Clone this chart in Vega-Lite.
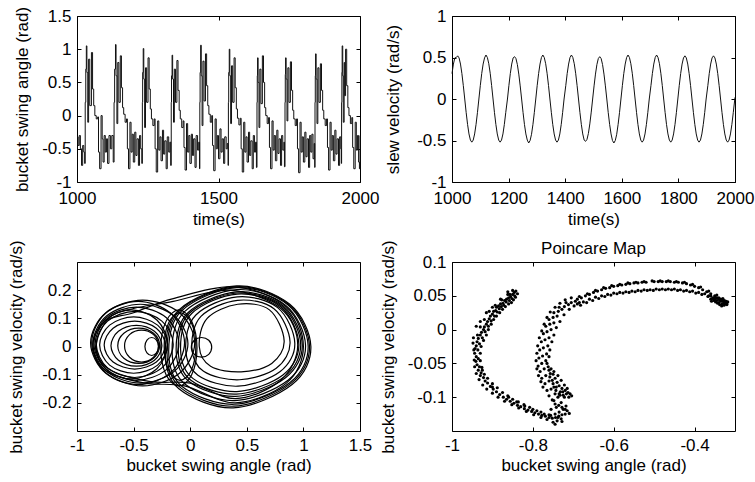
{
"$schema": "https://vega.github.io/schema/vega-lite/v6.json",
"autosize": {"type": "none"},
"padding": {"left": 77, "top": 16, "right": 678, "bottom": 466},
"background": "white",
"config": {
 "font": "Liberation Sans",
 "view": {"stroke": "black", "strokeWidth": 1},
 "axis": {"domain": false, "grid": false, "labelFont": "Liberation Sans", "labelFontSize": 17, "labelColor": "black", "titleFont": "Liberation Sans", "titleFontSize": 17, "titleFontWeight": "normal", "titleColor": "black", "tickColor": "black", "tickSize": -4, "tickWidth": 1, "labelPadding": 10, "labelFlush": false, "labelOverlap": false, "labelBound": false, "labelExpr": "'' + datum.value"},
 "title": {"font": "Liberation Sans", "fontSize": 17, "fontWeight": "normal", "color": "black"}
},
"datasets": {
"p1": [
{"t":1000,"a":-0.32},{"t":1004,"a":-0.45},{"t":1008,"a":-0.3},{"t":1012,"a":-0.5},{"t":1016,"a":-0.75},{"t":1020,"a":-0.45},{"t":1024,"a":-0.55},{"t":1027,"a":-0.72},{"t":1029,"a":0.2},{"t":1031,"a":0.7},
{"t":1033,"a":1.05},{"t":1035,"a":0.65},{"t":1038,"a":-0.1},{"t":1041,"a":0.85},{"t":1045,"a":0.15},{"t":1051,"a":0.95},{"t":1055,"a":0.4},{"t":1059,"a":0.15},{"t":1063,"a":0.0},{"t":1068,"a":-0.05},{"t":1073,"a":-0.02},{"t":1076,"a":-0.55},{"t":1080,"a":-0.8},{"t":1085,"a":0.0},{"t":1089,"a":-0.35},{"t":1092,"a":-0.7},{"t":1096,"a":-0.3},{"t":1100,"a":-0.55},{"t":1104,"a":-0.35},{"t":1108,"a":-0.72},{"t":1113,"a":-0.3},{"t":1118,"a":-0.5},{"t":1123,"a":-0.3},{"t":1128,"a":-0.7},{"t":1131,"a":0.2},{"t":1133,"a":0.7},
{"t":1136,"a":1.07},{"t":1138,"a":0.6},{"t":1141,"a":-0.12},{"t":1144,"a":0.8},{"t":1148,"a":0.2},{"t":1153,"a":0.9},{"t":1157,"a":0.42},{"t":1161,"a":0.12},{"t":1165,"a":0.02},{"t":1170,"a":-0.1},{"t":1175,"a":-0.05},{"t":1178,"a":-0.5},{"t":1182,"a":-0.8},{"t":1187,"a":-0.1},{"t":1191,"a":-0.55},{"t":1195,"a":-0.28},{"t":1199,"a":-0.7},{"t":1204,"a":-0.25},{"t":1208,"a":-0.6},{"t":1212,"a":-0.35},{"t":1217,"a":-0.75},{"t":1221,"a":-0.3},{"t":1225,"a":-0.5},{"t":1229,"a":-0.72},{"t":1231,"a":0.2},{"t":1232,"a":0.65},
{"t":1234,"a":1.01},{"t":1236,"a":0.55},{"t":1239,"a":-0.18},{"t":1242,"a":0.72},{"t":1246,"a":0.2},{"t":1251,"a":0.87},{"t":1255,"a":0.4},{"t":1259,"a":0.1},{"t":1263,"a":-0.05},{"t":1268,"a":-0.15},{"t":1273,"a":-0.05},{"t":1276,"a":-0.5},{"t":1280,"a":-0.85},{"t":1285,"a":-0.08},{"t":1289,"a":-0.52},{"t":1293,"a":-0.32},{"t":1297,"a":-0.68},{"t":1302,"a":-0.22},{"t":1306,"a":-0.58},{"t":1310,"a":-0.38},{"t":1315,"a":-0.8},{"t":1319,"a":-0.32},{"t":1324,"a":-0.55},{"t":1328,"a":-0.4},{"t":1331,"a":-0.75},{"t":1333,"a":0.2},{"t":1334,"a":0.6},
{"t":1336,"a":0.91},{"t":1338,"a":0.55},{"t":1341,"a":-0.1},{"t":1344,"a":0.7},{"t":1348,"a":0.2},{"t":1353,"a":0.83},{"t":1357,"a":0.38},{"t":1361,"a":0.08},{"t":1365,"a":-0.05},{"t":1370,"a":-0.18},{"t":1375,"a":-0.08},{"t":1378,"a":-0.48},{"t":1382,"a":-0.82},{"t":1387,"a":-0.12},{"t":1391,"a":-0.55},{"t":1395,"a":-0.3},{"t":1399,"a":-0.72},{"t":1404,"a":-0.28},{"t":1408,"a":-0.6},{"t":1412,"a":-0.35},{"t":1417,"a":-0.78},{"t":1421,"a":-0.3},{"t":1426,"a":-0.52},{"t":1430,"a":-0.4},{"t":1433,"a":-0.8},{"t":1434,"a":0.2},{"t":1435,"a":0.65},
{"t":1437,"a":1.06},{"t":1439,"a":0.6},{"t":1442,"a":-0.15},{"t":1445,"a":0.82},{"t":1449,"a":0.22},{"t":1454,"a":0.93},{"t":1458,"a":0.45},{"t":1462,"a":0.15},{"t":1466,"a":0.02},{"t":1471,"a":-0.1},{"t":1476,"a":0.0},{"t":1479,"a":-0.45},{"t":1483,"a":-0.83},{"t":1488,"a":-0.05},{"t":1492,"a":-0.5},{"t":1496,"a":-0.3},{"t":1500,"a":-0.65},{"t":1505,"a":-0.2},{"t":1509,"a":-0.55},{"t":1513,"a":-0.35},{"t":1518,"a":-0.72},{"t":1522,"a":-0.32},{"t":1527,"a":-0.5},{"t":1531,"a":-0.42},{"t":1534,"a":-0.75},{"t":1535,"a":0.2},{"t":1536,"a":0.65},
{"t":1538,"a":1.0},{"t":1540,"a":0.6},{"t":1543,"a":-0.12},{"t":1546,"a":0.75},{"t":1550,"a":0.2},{"t":1555,"a":0.87},{"t":1559,"a":0.42},{"t":1563,"a":0.1},{"t":1567,"a":-0.04},{"t":1572,"a":-0.14},{"t":1577,"a":-0.04},{"t":1580,"a":-0.5},{"t":1584,"a":-0.85},{"t":1589,"a":-0.1},{"t":1593,"a":-0.55},{"t":1597,"a":-0.32},{"t":1601,"a":-0.7},{"t":1606,"a":-0.25},{"t":1610,"a":-0.6},{"t":1614,"a":-0.38},{"t":1619,"a":-0.8},{"t":1623,"a":-0.3},{"t":1627,"a":-0.55},{"t":1631,"a":-0.4},{"t":1634,"a":-0.78},{"t":1636,"a":0.2},{"t":1637,"a":0.6},
{"t":1638,"a":0.87},{"t":1640,"a":0.5},{"t":1643,"a":-0.18},{"t":1646,"a":0.7},{"t":1650,"a":0.18},{"t":1655,"a":0.9},{"t":1659,"a":0.5},{"t":1663,"a":0.12},{"t":1667,"a":0.0},{"t":1672,"a":-0.12},{"t":1677,"a":-0.03},{"t":1680,"a":-0.48},{"t":1684,"a":-0.8},{"t":1689,"a":-0.08},{"t":1693,"a":-0.52},{"t":1697,"a":-0.3},{"t":1701,"a":-0.68},{"t":1706,"a":-0.22},{"t":1710,"a":-0.57},{"t":1714,"a":-0.35},{"t":1719,"a":-0.75},{"t":1723,"a":-0.3},{"t":1727,"a":-0.52},{"t":1731,"a":-0.4},{"t":1733,"a":-0.77},{"t":1735,"a":0.2},{"t":1736,"a":0.62},
{"t":1737,"a":0.87},{"t":1739,"a":0.55},{"t":1742,"a":-0.08},{"t":1745,"a":0.72},{"t":1749,"a":0.2},{"t":1754,"a":0.81},{"t":1758,"a":0.38},{"t":1762,"a":0.08},{"t":1766,"a":-0.05},{"t":1771,"a":-0.15},{"t":1776,"a":-0.05},{"t":1779,"a":-0.5},{"t":1783,"a":-0.86},{"t":1788,"a":-0.1},{"t":1792,"a":-0.55},{"t":1796,"a":-0.32},{"t":1800,"a":-0.7},{"t":1805,"a":-0.25},{"t":1809,"a":-0.62},{"t":1813,"a":-0.35},{"t":1818,"a":-0.78},{"t":1822,"a":-0.3},{"t":1826,"a":-0.55},{"t":1830,"a":-0.28},{"t":1834,"a":-0.65},{"t":1838,"a":-0.42},{"t":1840,"a":-0.78},{"t":1841,"a":0.2},{"t":1842,"a":0.6},
{"t":1843,"a":0.93},{"t":1845,"a":0.55},{"t":1848,"a":-0.12},{"t":1851,"a":0.72},{"t":1855,"a":0.2},{"t":1860,"a":0.78},{"t":1864,"a":0.38},{"t":1868,"a":0.08},{"t":1872,"a":-0.05},{"t":1877,"a":-0.15},{"t":1882,"a":-0.05},{"t":1885,"a":-0.48},{"t":1889,"a":-0.82},{"t":1894,"a":-0.1},{"t":1898,"a":-0.52},{"t":1902,"a":-0.3},{"t":1906,"a":-0.68},{"t":1911,"a":-0.22},{"t":1915,"a":-0.58},{"t":1919,"a":-0.35},{"t":1924,"a":-0.75},{"t":1928,"a":-0.32},{"t":1932,"a":-0.5},{"t":1934,"a":-0.72},{"t":1935,"a":0.2},{"t":1936,"a":0.65},
{"t":1937,"a":1.05},{"t":1939,"a":0.6},{"t":1941,"a":-0.1},{"t":1944,"a":0.8},{"t":1946,"a":0.3},{"t":1949,"a":1.0},{"t":1953,"a":0.45},{"t":1957,"a":0.12},{"t":1961,"a":0.0},{"t":1966,"a":-0.12},{"t":1971,"a":-0.03},{"t":1974,"a":-0.48},{"t":1978,"a":-0.8},{"t":1983,"a":-0.1},{"t":1987,"a":-0.52},{"t":1991,"a":-0.3},{"t":1995,"a":-0.7},{"t":1998,"a":-0.8},{"t":2000,"a":-0.3}
],
"p2": [
{"t":1000,"w":0.306},{"t":1005,"w":0.421},{"t":1010,"w":0.495},{"t":1015,"w":0.5},
{"t":1020,"w":0.52},{"t":1025,"w":0.495},{"t":1030,"w":0.421},{"t":1035,"w":0.306},{"t":1040,"w":0.161},{"t":1045,"w":0},{"t":1050,"w":-0.161},{"t":1055,"w":-0.306},{"t":1060,"w":-0.421},{"t":1065,"w":-0.495},{"t":1070,"w":-0.52},{"t":1075,"w":-0.495},{"t":1080,"w":-0.421},{"t":1085,"w":-0.306},{"t":1090,"w":-0.161},{"t":1095,"w":0},{"t":1100,"w":0.161},{"t":1105,"w":0.306},{"t":1110,"w":0.421},{"t":1115,"w":0.495},
{"t":1120,"w":0.53},{"t":1125,"w":0.5},{"t":1130,"w":0.425},{"t":1135,"w":0.31},{"t":1140,"w":0.163},{"t":1145,"w":0},{"t":1150,"w":-0.161},{"t":1155,"w":-0.306},{"t":1160,"w":-0.421},{"t":1165,"w":-0.495},{"t":1170,"w":-0.52},{"t":1175,"w":-0.495},{"t":1180,"w":-0.421},{"t":1185,"w":-0.306},{"t":1190,"w":-0.161},{"t":1196,"w":0},{"t":1201,"w":0.161},{"t":1206,"w":0.306},{"t":1211,"w":0.421},{"t":1216,"w":0.495},
{"t":1221,"w":0.51},{"t":1226,"w":0.487},{"t":1231,"w":0.415},{"t":1236,"w":0.3},{"t":1241,"w":0.158},{"t":1246,"w":0},{"t":1251,"w":-0.161},{"t":1256,"w":-0.306},{"t":1261,"w":-0.421},{"t":1266,"w":-0.495},{"t":1271,"w":-0.53},{"t":1276,"w":-0.5},{"t":1281,"w":-0.425},{"t":1286,"w":-0.306},{"t":1291,"w":-0.161},{"t":1296,"w":0},{"t":1301,"w":0.161},{"t":1306,"w":0.306},{"t":1311,"w":0.421},{"t":1316,"w":0.5},
{"t":1321,"w":0.53},{"t":1326,"w":0.5},{"t":1331,"w":0.425},{"t":1336,"w":0.31},{"t":1341,"w":0.163},{"t":1346,"w":0},{"t":1351,"w":-0.161},{"t":1356,"w":-0.306},{"t":1361,"w":-0.421},{"t":1366,"w":-0.495},{"t":1371,"w":-0.52},{"t":1376,"w":-0.495},{"t":1381,"w":-0.421},{"t":1386,"w":-0.306},{"t":1391,"w":-0.161},{"t":1396,"w":0},{"t":1402,"w":0.161},{"t":1407,"w":0.306},{"t":1412,"w":0.421},{"t":1417,"w":0.5},
{"t":1422,"w":0.53},{"t":1427,"w":0.5},{"t":1432,"w":0.425},{"t":1437,"w":0.31},{"t":1442,"w":0.163},{"t":1447,"w":0},{"t":1452,"w":-0.161},{"t":1457,"w":-0.306},{"t":1462,"w":-0.421},{"t":1467,"w":-0.495},{"t":1472,"w":-0.51},{"t":1477,"w":-0.487},{"t":1482,"w":-0.415},{"t":1487,"w":-0.3},{"t":1492,"w":-0.158},{"t":1497,"w":0},{"t":1502,"w":0.158},{"t":1507,"w":0.3},{"t":1512,"w":0.415},{"t":1517,"w":0.487},
{"t":1522,"w":0.51},{"t":1527,"w":0.487},{"t":1532,"w":0.415},{"t":1537,"w":0.3},{"t":1542,"w":0.158},{"t":1547,"w":0},{"t":1552,"w":-0.161},{"t":1557,"w":-0.306},{"t":1562,"w":-0.421},{"t":1567,"w":-0.5},{"t":1572,"w":-0.53},{"t":1577,"w":-0.5},{"t":1582,"w":-0.425},{"t":1587,"w":-0.306},{"t":1592,"w":-0.161},{"t":1597,"w":0},{"t":1602,"w":0.161},{"t":1607,"w":0.306},{"t":1612,"w":0.421},{"t":1617,"w":0.5},
{"t":1622,"w":0.53},{"t":1627,"w":0.5},{"t":1632,"w":0.425},{"t":1637,"w":0.31},{"t":1642,"w":0.163},{"t":1647,"w":0},{"t":1652,"w":-0.161},{"t":1657,"w":-0.306},{"t":1662,"w":-0.421},{"t":1667,"w":-0.495},{"t":1672,"w":-0.52},{"t":1677,"w":-0.495},{"t":1682,"w":-0.421},{"t":1687,"w":-0.306},{"t":1692,"w":-0.161},{"t":1697,"w":0},{"t":1703,"w":0.161},{"t":1708,"w":0.306},{"t":1713,"w":0.421},{"t":1718,"w":0.5},
{"t":1723,"w":0.53},{"t":1728,"w":0.5},{"t":1733,"w":0.425},{"t":1738,"w":0.31},{"t":1743,"w":0.163},{"t":1748,"w":0},{"t":1753,"w":-0.161},{"t":1758,"w":-0.306},{"t":1763,"w":-0.421},{"t":1768,"w":-0.495},{"t":1773,"w":-0.52},{"t":1778,"w":-0.495},{"t":1783,"w":-0.421},{"t":1788,"w":-0.306},{"t":1793,"w":-0.161},{"t":1798,"w":0},{"t":1803,"w":0.161},{"t":1808,"w":0.306},{"t":1813,"w":0.421},{"t":1818,"w":0.495},
{"t":1823,"w":0.52},{"t":1828,"w":0.495},{"t":1833,"w":0.421},{"t":1838,"w":0.306},{"t":1843,"w":0.161},{"t":1848,"w":0},{"t":1853,"w":-0.161},{"t":1858,"w":-0.306},{"t":1863,"w":-0.421},{"t":1868,"w":-0.495},{"t":1873,"w":-0.52},{"t":1878,"w":-0.495},{"t":1883,"w":-0.421},{"t":1888,"w":-0.306},{"t":1893,"w":-0.161},{"t":1898,"w":0},{"t":1904,"w":0.161},{"t":1909,"w":0.306},{"t":1914,"w":0.421},{"t":1919,"w":0.495},
{"t":1924,"w":0.52},{"t":1929,"w":0.495},{"t":1934,"w":0.421},{"t":1939,"w":0.306},{"t":1944,"w":0.161},{"t":1949,"w":0},{"t":1954,"w":-0.161},{"t":1959,"w":-0.306},{"t":1964,"w":-0.421},{"t":1969,"w":-0.495},{"t":1974,"w":-0.52},{"t":1979,"w":-0.495},{"t":1984,"w":-0.421},{"t":1989,"w":-0.306},{"t":1994,"w":-0.161},{"t":2000,"w":0.02}
],
"p3": [
{"l":"L1","i":0,"x":0.04,"v":0.013},{"l":"L1","i":1,"x":-0.095,"v":0.12},{"l":"L1","i":2,"x":-0.42,"v":0.165},{"l":"L1","i":3,"x":-0.745,"v":0.12},{"l":"L1","i":4,"x":-0.88,"v":0.013},{"l":"L1","i":5,"x":-0.745,"v":-0.095},{"l":"L1","i":6,"x":-0.42,"v":-0.14},{"l":"L1","i":7,"x":-0.095,"v":-0.095},
{"l":"L1b","i":0,"x":-0.05,"v":0.013},{"l":"L1b","i":1,"x":-0.17,"v":0.117},{"l":"L1b","i":2,"x":-0.46,"v":0.16},{"l":"L1b","i":3,"x":-0.75,"v":0.117},{"l":"L1b","i":4,"x":-0.87,"v":0.013},{"l":"L1b","i":5,"x":-0.75,"v":-0.092},{"l":"L1b","i":6,"x":-0.46,"v":-0.135},{"l":"L1b","i":7,"x":-0.17,"v":-0.092},
{"l":"L2","i":0,"x":-0.02,"v":0.01},{"l":"L2","i":1,"x":-0.143,"v":0.109},{"l":"L2","i":2,"x":-0.44,"v":0.15},{"l":"L2","i":3,"x":-0.737,"v":0.109},{"l":"L2","i":4,"x":-0.86,"v":0.01},{"l":"L2","i":5,"x":-0.737,"v":-0.089},{"l":"L2","i":6,"x":-0.44,"v":-0.13},{"l":"L2","i":7,"x":-0.143,"v":-0.089},
{"l":"L3","i":0,"x":-0.1,"v":0.01},{"l":"L3","i":1,"x":-0.21,"v":0.102},{"l":"L3","i":2,"x":-0.475,"v":0.14},{"l":"L3","i":3,"x":-0.74,"v":0.102},{"l":"L3","i":4,"x":-0.85,"v":0.01},{"l":"L3","i":5,"x":-0.74,"v":-0.082},{"l":"L3","i":6,"x":-0.475,"v":-0.12},{"l":"L3","i":7,"x":-0.21,"v":-0.082},
{"l":"L3b","i":0,"x":-0.2,"v":0.008},{"l":"L3b","i":1,"x":-0.294,"v":0.094},{"l":"L3b","i":2,"x":-0.52,"v":0.13},{"l":"L3b","i":3,"x":-0.746,"v":0.094},{"l":"L3b","i":4,"x":-0.84,"v":0.008},{"l":"L3b","i":5,"x":-0.746,"v":-0.079},{"l":"L3b","i":6,"x":-0.52,"v":-0.115},{"l":"L3b","i":7,"x":-0.294,"v":-0.079},
{"l":"L4","i":0,"x":-0.15,"v":0.008},{"l":"L4","i":1,"x":-0.25,"v":0.09},{"l":"L4","i":2,"x":-0.49,"v":0.125},{"l":"L4","i":3,"x":-0.73,"v":0.09},{"l":"L4","i":4,"x":-0.83,"v":0.008},{"l":"L4","i":5,"x":-0.73,"v":-0.076},{"l":"L4","i":6,"x":-0.49,"v":-0.11},{"l":"L4","i":7,"x":-0.25,"v":-0.076},
{"l":"L5","i":0,"x":-0.2,"v":0.005},{"l":"L5","i":1,"x":-0.288,"v":0.076},{"l":"L5","i":2,"x":-0.5,"v":0.105},{"l":"L5","i":3,"x":-0.712,"v":0.076},{"l":"L5","i":4,"x":-0.8,"v":0.005},{"l":"L5","i":5,"x":-0.712,"v":-0.066},{"l":"L5","i":6,"x":-0.5,"v":-0.095},{"l":"L5","i":7,"x":-0.288,"v":-0.066},
{"l":"L6","i":0,"x":-0.22,"v":0.005},{"l":"L6","i":1,"x":-0.299,"v":0.065},{"l":"L6","i":2,"x":-0.49,"v":0.09},{"l":"L6","i":3,"x":-0.681,"v":0.065},{"l":"L6","i":4,"x":-0.76,"v":0.005},{"l":"L6","i":5,"x":-0.681,"v":-0.055},{"l":"L6","i":6,"x":-0.49,"v":-0.08},{"l":"L6","i":7,"x":-0.299,"v":-0.055},
{"l":"L7","i":0,"x":-0.25,"v":0.003},{"l":"L7","i":1,"x":-0.316,"v":0.054},{"l":"L7","i":2,"x":-0.475,"v":0.075},{"l":"L7","i":3,"x":-0.634,"v":0.054},{"l":"L7","i":4,"x":-0.7,"v":0.003},{"l":"L7","i":5,"x":-0.634,"v":-0.049},{"l":"L7","i":6,"x":-0.475,"v":-0.07},{"l":"L7","i":7,"x":-0.316,"v":-0.049},
{"l":"L8","i":0,"x":-0.27,"v":0.003},{"l":"L8","i":1,"x":-0.324,"v":0.047},{"l":"L8","i":2,"x":-0.455,"v":0.065},{"l":"L8","i":3,"x":-0.586,"v":0.047},{"l":"L8","i":4,"x":-0.64,"v":0.003},{"l":"L8","i":5,"x":-0.586,"v":-0.042},{"l":"L8","i":6,"x":-0.455,"v":-0.06},{"l":"L8","i":7,"x":-0.324,"v":-0.042},
{"l":"L9","i":0,"x":-0.28,"v":0.002},{"l":"L9","i":1,"x":-0.324,"v":0.042},{"l":"L9","i":2,"x":-0.43,"v":0.058},{"l":"L9","i":3,"x":-0.536,"v":0.042},{"l":"L9","i":4,"x":-0.58,"v":0.002},{"l":"L9","i":5,"x":-0.536,"v":-0.038},{"l":"L9","i":6,"x":-0.43,"v":-0.055},{"l":"L9","i":7,"x":-0.324,"v":-0.038},
{"l":"Ls","i":0,"x":-0.28,"v":0},{"l":"Ls","i":1,"x":-0.298,"v":0.023},{"l":"Ls","i":2,"x":-0.34,"v":0.032},{"l":"Ls","i":3,"x":-0.382,"v":0.023},{"l":"Ls","i":4,"x":-0.4,"v":0},{"l":"Ls","i":5,"x":-0.382,"v":-0.023},{"l":"Ls","i":6,"x":-0.34,"v":-0.032},{"l":"Ls","i":7,"x":-0.298,"v":-0.023},
{"l":"G1","i":0,"x":0.06,"v":-0.005},{"l":"G1","i":1,"x":0.013,"v":0.09},{"l":"G1","i":2,"x":-0.1,"v":0.13},{"l":"G1","i":3,"x":-0.213,"v":0.09},{"l":"G1","i":4,"x":-0.26,"v":-0.005},{"l":"G1","i":5,"x":-0.213,"v":-0.1},{"l":"G1","i":6,"x":-0.1,"v":-0.14},{"l":"G1","i":7,"x":0.013,"v":-0.1},
{"l":"G2","i":0,"x":0.05,"v":0},{"l":"G2","i":1,"x":0.009,"v":0.085},{"l":"G2","i":2,"x":-0.09,"v":0.12},{"l":"G2","i":3,"x":-0.189,"v":0.085},{"l":"G2","i":4,"x":-0.23,"v":0},{"l":"G2","i":5,"x":-0.189,"v":-0.085},{"l":"G2","i":6,"x":-0.09,"v":-0.12},{"l":"G2","i":7,"x":0.009,"v":-0.085},
{"l":"S","i":0,"x":0.19,"v":-0.003},{"l":"S","i":1,"x":0.164,"v":0.022},{"l":"S","i":2,"x":0.1,"v":0.032},{"l":"S","i":3,"x":0.036,"v":0.022},{"l":"S","i":4,"x":0.01,"v":-0.003},{"l":"S","i":5,"x":0.036,"v":-0.028},{"l":"S","i":6,"x":0.1,"v":-0.038},{"l":"S","i":7,"x":0.164,"v":-0.028},
{"l":"R0","i":0,"x":1.066,"v":0.0},{"l":"R0","i":1,"x":0.88,"v":0.15},{"l":"R0","i":2,"x":0.41,"v":0.215},{"l":"R0","i":3,"x":-0.1,"v":0.13},{"l":"R0","i":4,"x":-0.22,"v":-0.02},{"l":"R0","i":5,"x":-0.1,"v":-0.15},{"l":"R0","i":6,"x":0.38,"v":-0.218},{"l":"R0","i":7,"x":0.9,"v":-0.135},
{"l":"R05","i":0,"x":1.054,"v":0.001},{"l":"R05","i":1,"x":0.871,"v":0.149},{"l":"R05","i":2,"x":0.41,"v":0.212},{"l":"R05","i":3,"x":-0.088,"v":0.129},{"l":"R05","i":4,"x":-0.205,"v":-0.019},{"l":"R05","i":5,"x":-0.086,"v":-0.146},{"l":"R05","i":6,"x":0.384,"v":-0.212},{"l":"R05","i":7,"x":0.891,"v":-0.131},
{"l":"R1","i":0,"x":1.042,"v":0.002},{"l":"R1","i":1,"x":0.862,"v":0.148},{"l":"R1","i":2,"x":0.411,"v":0.209},{"l":"R1","i":3,"x":-0.075,"v":0.127},{"l":"R1","i":4,"x":-0.19,"v":-0.018},{"l":"R1","i":5,"x":-0.072,"v":-0.142},{"l":"R1","i":6,"x":0.387,"v":-0.205},{"l":"R1","i":7,"x":0.882,"v":-0.128},
{"l":"R2","i":0,"x":1.019,"v":0.004},{"l":"R2","i":1,"x":0.844,"v":0.146},{"l":"R2","i":2,"x":0.412,"v":0.202},{"l":"R2","i":3,"x":-0.05,"v":0.124},{"l":"R2","i":4,"x":-0.16,"v":-0.016},{"l":"R2","i":5,"x":-0.044,"v":-0.134},{"l":"R2","i":6,"x":0.394,"v":-0.192},{"l":"R2","i":7,"x":0.864,"v":-0.12},
{"l":"R3","i":0,"x":0.99,"v":0.006},{"l":"R3","i":1,"x":0.822,"v":0.144},{"l":"R3","i":2,"x":0.413,"v":0.194},{"l":"R3","i":3,"x":-0.02,"v":0.12},{"l":"R3","i":4,"x":-0.124,"v":-0.014},{"l":"R3","i":5,"x":-0.01,"v":-0.124},{"l":"R3","i":6,"x":0.402,"v":-0.177},{"l":"R3","i":7,"x":0.842,"v":-0.111},
{"l":"R38","i":0,"x":0.976,"v":0.008},{"l":"R38","i":1,"x":0.812,"v":0.142},{"l":"R38","i":2,"x":0.414,"v":0.19},{"l":"R38","i":3,"x":-0.005,"v":0.119},{"l":"R38","i":4,"x":-0.106,"v":-0.012},{"l":"R38","i":5,"x":0.006,"v":-0.12},{"l":"R38","i":6,"x":0.407,"v":-0.169},{"l":"R38","i":7,"x":0.832,"v":-0.107},
{"l":"R4","i":0,"x":0.96,"v":0.009},{"l":"R4","i":1,"x":0.799,"v":0.141},{"l":"R4","i":2,"x":0.415,"v":0.186},{"l":"R4","i":3,"x":0.013,"v":0.117},{"l":"R4","i":4,"x":-0.085,"v":-0.011},{"l":"R4","i":5,"x":0.026,"v":-0.114},{"l":"R4","i":6,"x":0.412,"v":-0.16},{"l":"R4","i":7,"x":0.819,"v":-0.101},
{"l":"R5","i":0,"x":0.924,"v":0.012},{"l":"R5","i":1,"x":0.772,"v":0.138},{"l":"R5","i":2,"x":0.416,"v":0.176},{"l":"R5","i":3,"x":0.05,"v":0.112},{"l":"R5","i":4,"x":-0.04,"v":-0.008},{"l":"R5","i":5,"x":0.068,"v":-0.102},{"l":"R5","i":6,"x":0.422,"v":-0.141},{"l":"R5","i":7,"x":0.792,"v":-0.09},
{"l":"R6","i":0,"x":0.882,"v":0.016},{"l":"R6","i":1,"x":0.74,"v":0.134},{"l":"R6","i":2,"x":0.418,"v":0.164},{"l":"R6","i":3,"x":0.095,"v":0.107},{"l":"R6","i":4,"x":0.014,"v":-0.004},{"l":"R6","i":5,"x":0.118,"v":-0.088},{"l":"R6","i":6,"x":0.435,"v":-0.118},{"l":"R6","i":7,"x":0.76,"v":-0.077},
{"l":"R7","i":0,"x":0.83,"v":0.02},{"l":"R7","i":1,"x":0.7,"v":0.13},{"l":"R7","i":2,"x":0.42,"v":0.15},{"l":"R7","i":3,"x":0.15,"v":0.1},{"l":"R7","i":4,"x":0.08,"v":0.0},{"l":"R7","i":5,"x":0.18,"v":-0.07},{"l":"R7","i":6,"x":0.45,"v":-0.09},{"l":"R7","i":7,"x":0.72,"v":-0.06},
{"l":"PA","i":0,"x":1.0,"v":0.0},{"l":"PA","i":1,"x":0.85,"v":-0.13},{"l":"PA","i":2,"x":0.4,"v":-0.2},{"l":"PA","i":3,"x":-0.05,"v":-0.14},{"l":"PA","i":4,"x":-0.4,"v":-0.13},{"l":"PA","i":5,"x":-0.75,"v":-0.085},{"l":"PA","i":6,"x":-0.86,"v":0.005},{"l":"PA","i":7,"x":-0.75,"v":0.09},{"l":"PA","i":8,"x":-0.5,"v":0.12},{"l":"PA","i":9,"x":-0.15,"v":0.17},{"l":"PA","i":10,"x":0.4,"v":0.212},{"l":"PA","i":11,"x":0.85,"v":0.14},
{"l":"PB","i":0,"x":0.95,"v":0.005},{"l":"PB","i":1,"x":0.8,"v":-0.12},{"l":"PB","i":2,"x":0.4,"v":-0.185},{"l":"PB","i":3,"x":0.0,"v":-0.13},{"l":"PB","i":4,"x":-0.35,"v":-0.125},{"l":"PB","i":5,"x":-0.72,"v":-0.08},{"l":"PB","i":6,"x":-0.83,"v":0.0},{"l":"PB","i":7,"x":-0.72,"v":0.1},{"l":"PB","i":8,"x":-0.5,"v":0.135},{"l":"PB","i":9,"x":-0.15,"v":0.16},{"l":"PB","i":10,"x":0.35,"v":0.2},{"l":"PB","i":11,"x":0.8,"v":0.135}
],
"p4": [
{"x":-0.842,"v":0.057},{"x":-0.846,"v":0.055},{"x":-0.85,"v":0.052},{"x":-0.845,"v":0.05},{"x":-0.855,"v":0.049},{"x":-0.852,"v":0.046},{"x":-0.86,"v":0.047},{"x":-0.858,"v":0.043},{"x":-0.865,"v":0.045},{"x":-0.866,"v":0.041},{"x":-0.87,"v":0.043},{"x":-0.874,"v":0.039},{"x":-0.872,"v":0.036},{"x":-0.88,"v":0.038},{"x":-0.878,"v":0.034},{"x":-0.885,"v":0.035},{"x":-0.883,"v":0.031},{"x":-0.89,"v":0.033},{"x":-0.892,"v":0.028},{"x":-0.888,"v":0.026},{"x":-0.897,"v":0.027},{"x":-0.9,"v":0.023},{"x":-0.895,"v":0.02},{"x":-0.905,"v":0.02},{"x":-0.908,"v":0.016},{"x":-0.903,"v":0.013},{"x":-0.912,"v":0.012},{"x":-0.915,"v":0.008},{"x":-0.91,"v":0.005},{"x":-0.92,"v":0.004},{"x":-0.922,"v":0.0},{"x":-0.918,"v":-0.003},{"x":-0.927,"v":-0.004},{"x":-0.93,"v":-0.008},{"x":-0.925,"v":-0.012},{"x":-0.935,"v":-0.013},{"x":-0.938,"v":-0.018},{"x":-0.932,"v":-0.021},{"x":-0.94,"v":-0.024},{"x":-0.943,"v":-0.028},{"x":-0.936,"v":-0.03},{"x":-0.944,"v":-0.035},{"x":-0.94,"v":-0.04},{"x":-0.935,"v":-0.043},{"x":-0.941,"v":-0.047},{"x":-0.938,"v":-0.052},{"x":-0.932,"v":-0.055},{"x":-0.935,"v":-0.06},{"x":-0.928,"v":-0.064},{"x":-0.93,"v":-0.068},{"x":-0.922,"v":-0.071},{"x":-0.918,"v":-0.076},{"x":-0.912,"v":-0.079},{"x":-0.905,"v":-0.084},{"x":-0.898,"v":-0.088},{"x":-0.89,"v":-0.092},{"x":-0.882,"v":-0.096},{"x":-0.873,"v":-0.1},{"x":-0.865,"v":-0.103},{"x":-0.856,"v":-0.106},{"x":-0.847,"v":-0.109},{"x":-0.838,"v":-0.112},{"x":-0.83,"v":-0.114},{"x":-0.821,"v":-0.117},{"x":-0.812,"v":-0.119},{"x":-0.803,"v":-0.121},{"x":-0.795,"v":-0.123},{"x":-0.786,"v":-0.125},{"x":-0.778,"v":-0.127},{"x":-0.769,"v":-0.128},{"x":-0.76,"v":-0.13},{"x":-0.752,"v":-0.131},{"x":-0.744,"v":-0.13},{"x":-0.736,"v":-0.128},{"x":-0.728,"v":-0.126},
{"x":-0.86,"v":-0.1},{"x":-0.84,"v":-0.107},{"x":-0.82,"v":-0.113},{"x":-0.8,"v":-0.118},{"x":-0.78,"v":-0.122},{"x":-0.76,"v":-0.126},{"x":-0.9,"v":-0.085},{"x":-0.925,"v":-0.06},{"x":-0.945,"v":-0.045},{"x":-0.948,"v":-0.02},{"x":-0.94,"v":0.005},{"x":-0.93,"v":0.012},{"x":-0.915,"v":0.025},{"x":-0.9,"v":0.033},{"x":-0.88,"v":0.045},{"x":-0.862,"v":0.052},{"x":-0.85,"v":0.058},
{"x":-0.838,"v":0.053},{"x":-0.843,"v":0.048},{"x":-0.848,"v":0.044},{"x":-0.853,"v":0.04},{"x":-0.86,"v":0.038},{"x":-0.868,"v":0.034},{"x":-0.875,"v":0.03},{"x":-0.882,"v":0.025},{"x":-0.89,"v":0.02},{"x":-0.897,"v":0.015},{"x":-0.903,"v":0.008},{"x":-0.91,"v":0.0},{"x":-0.915,"v":-0.008},{"x":-0.922,"v":-0.016},{"x":-0.928,"v":-0.025},{"x":-0.93,"v":-0.035},{"x":-0.93,"v":-0.046},{"x":-0.926,"v":-0.056},{"x":-0.92,"v":-0.066},{"x":-0.912,"v":-0.072},{"x":-0.9,"v":-0.08},{"x":-0.888,"v":-0.086},{"x":-0.875,"v":-0.093},{"x":-0.862,"v":-0.098},{"x":-0.85,"v":-0.103},{"x":-0.836,"v":-0.107},{"x":-0.822,"v":-0.111},{"x":-0.808,"v":-0.115},{"x":-0.79,"v":-0.12},{"x":-0.772,"v":-0.125},{"x":-0.756,"v":-0.127},{"x":-0.862,"v":0.056},{"x":-0.857,"v":0.052},{"x":-0.877,"v":0.044},{"x":-0.893,"v":0.036},{"x":-0.908,"v":0.027},{"x":-0.92,"v":0.015},{"x":-0.93,"v":0.004},{"x":-0.937,"v":-0.008},{"x":-0.946,"v":-0.03},{"x":-0.947,"v":-0.012},{"x":-0.944,"v":-0.055},{"x":-0.94,"v":-0.065},{"x":-0.933,"v":-0.074},{"x":-0.924,"v":-0.082},{"x":-0.914,"v":-0.088},{"x":-0.9,"v":-0.094},{"x":-0.886,"v":-0.1},{"x":-0.87,"v":-0.106},{"x":-0.852,"v":-0.111},{"x":-0.835,"v":-0.116},{"x":-0.816,"v":-0.121},{"x":-0.798,"v":-0.126},{"x":-0.78,"v":-0.13},{"x":-0.765,"v":-0.133},
{"x":-0.74,"v":-0.135},{"x":-0.73,"v":-0.132},{"x":-0.72,"v":-0.125},{"x":-0.715,"v":-0.12},{"x":-0.718,"v":-0.113},{"x":-0.725,"v":-0.118},{"x":-0.735,"v":-0.122},{"x":-0.745,"v":-0.125},{"x":-0.742,"v":-0.115},{"x":-0.73,"v":-0.108},{"x":-0.722,"v":-0.1},{"x":-0.735,"v":-0.095},{"x":-0.748,"v":-0.105},{"x":-0.755,"v":-0.118},{"x":-0.75,"v":-0.137},{"x":-0.71,"v":-0.124},
{"x":-0.765,"v":-0.05},{"x":-0.758,"v":-0.07},{"x":-0.75,"v":-0.08},{"x":-0.743,"v":-0.09},{"x":-0.733,"v":-0.097},{"x":-0.726,"v":-0.092},{"x":-0.717,"v":-0.095},{"x":-0.711,"v":-0.1},{"x":-0.704,"v":-0.098},{"x":-0.745,"v":-0.11},{"x":-0.736,"v":-0.112},{"x":-0.728,"v":-0.115},{"x":-0.72,"v":-0.118},{"x":-0.738,"v":-0.13},{"x":-0.728,"v":-0.136},{"x":-0.745,"v":-0.14},
{"x":-0.765,"v":-0.09},{"x":-0.755,"v":-0.088},{"x":-0.748,"v":-0.085},{"x":-0.77,"v":-0.08},{"x":-0.76,"v":-0.076},{"x":-0.778,"v":-0.072},{"x":-0.768,"v":-0.068},{"x":-0.757,"v":-0.065},{"x":-0.782,"v":-0.062},{"x":-0.772,"v":-0.058},{"x":-0.762,"v":-0.055},{"x":-0.787,"v":-0.054},{"x":-0.778,"v":-0.05},{"x":-0.768,"v":-0.046},{"x":-0.785,"v":-0.042},{"x":-0.776,"v":-0.039},{"x":-0.766,"v":-0.036},{"x":-0.783,"v":-0.03},{"x":-0.774,"v":-0.027},{"x":-0.763,"v":-0.024},{"x":-0.779,"v":-0.018},{"x":-0.77,"v":-0.015},{"x":-0.76,"v":-0.012},{"x":-0.774,"v":-0.006},{"x":-0.765,"v":-0.003},{"x":-0.755,"v":0.0},{"x":-0.768,"v":0.005},{"x":-0.758,"v":0.008},{"x":-0.748,"v":0.01},{"x":-0.76,"v":0.015},{"x":-0.75,"v":0.018},{"x":-0.74,"v":0.02},{"x":-0.748,"v":0.025},{"x":-0.737,"v":0.027},{"x":-0.728,"v":0.03},{"x":-0.735,"v":0.033},{"x":-0.722,"v":0.034},{"x":-0.712,"v":0.037},{"x":-0.718,"v":0.04},{"x":-0.705,"v":0.04},{"x":-0.695,"v":0.042},
{"x":-0.775,"v":-0.085},{"x":-0.78,"v":-0.077},{"x":-0.786,"v":-0.068},{"x":-0.79,"v":-0.058},{"x":-0.792,"v":-0.046},{"x":-0.79,"v":-0.035},{"x":-0.788,"v":-0.024},{"x":-0.784,"v":-0.012},{"x":-0.778,"v":-0.002},{"x":-0.772,"v":0.008},{"x":-0.765,"v":0.018},{"x":-0.757,"v":0.026},{"x":-0.745,"v":0.033},{"x":-0.733,"v":0.039},{"x":-0.72,"v":0.044},{"x":-0.705,"v":0.047},{"x":-0.76,"v":-0.04},{"x":-0.758,"v":-0.03},{"x":-0.753,"v":-0.018},{"x":-0.748,"v":-0.008},{"x":-0.742,"v":0.003},{"x":-0.733,"v":0.012},{"x":-0.723,"v":0.022},{"x":-0.71,"v":0.03},{"x":-0.698,"v":0.035},{"x":-0.685,"v":0.04},
{"x":-0.76,"v":-0.06},{"x":-0.75,"v":-0.066},{"x":-0.745,"v":-0.072},{"x":-0.74,"v":-0.078},{"x":-0.735,"v":-0.083},{"x":-0.728,"v":-0.087},{"x":-0.72,"v":-0.09},{"x":-0.713,"v":-0.093},{"x":-0.708,"v":-0.095},{"x":-0.752,"v":-0.075},{"x":-0.742,"v":-0.085},{"x":-0.732,"v":-0.092},{"x":-0.725,"v":-0.097},{"x":-0.755,"v":-0.058},{"x":-0.748,"v":-0.062},{"x":-0.738,"v":-0.068},{"x":-0.73,"v":-0.075},{"x":-0.722,"v":-0.082},{"x":-0.715,"v":-0.087},{"x":-0.745,"v":-0.095},{"x":-0.738,"v":-0.1},{"x":-0.76,"v":-0.098},{"x":-0.752,"v":-0.104},
{"x":-0.69,"v":0.045},{"x":-0.68,"v":0.047},{"x":-0.67,"v":0.05},{"x":-0.66,"v":0.052},{"x":-0.65,"v":0.055},{"x":-0.64,"v":0.057},{"x":-0.63,"v":0.059},{"x":-0.62,"v":0.061},{"x":-0.61,"v":0.062},{"x":-0.6,"v":0.064},{"x":-0.59,"v":0.065},{"x":-0.58,"v":0.066},{"x":-0.57,"v":0.067},{"x":-0.56,"v":0.068},{"x":-0.55,"v":0.069},{"x":-0.54,"v":0.069},{"x":-0.53,"v":0.07},{"x":-0.52,"v":0.07},{"x":-0.5,"v":0.071},{"x":-0.49,"v":0.071},{"x":-0.48,"v":0.071},{"x":-0.47,"v":0.071},{"x":-0.46,"v":0.071},{"x":-0.45,"v":0.07},{"x":-0.44,"v":0.07},{"x":-0.43,"v":0.069},{"x":-0.42,"v":0.068},{"x":-0.41,"v":0.066},{"x":-0.4,"v":0.064},{"x":-0.39,"v":0.062},{"x":-0.38,"v":0.059},{"x":-0.37,"v":0.056},{"x":-0.36,"v":0.053},{"x":-0.35,"v":0.05},{"x":-0.34,"v":0.047},{"x":-0.335,"v":0.045},{"x":-0.33,"v":0.043},{"x":-0.325,"v":0.041},
{"x":-0.685,"v":0.049},{"x":-0.665,"v":0.053},{"x":-0.645,"v":0.058},{"x":-0.625,"v":0.062},{"x":-0.605,"v":0.065},{"x":-0.585,"v":0.067},{"x":-0.565,"v":0.069},{"x":-0.545,"v":0.07},{"x":-0.525,"v":0.071},{"x":-0.505,"v":0.072},{"x":-0.485,"v":0.072},{"x":-0.465,"v":0.072},{"x":-0.445,"v":0.071},{"x":-0.425,"v":0.07},{"x":-0.405,"v":0.067},{"x":-0.385,"v":0.063},{"x":-0.365,"v":0.057},{"x":-0.345,"v":0.051},
{"x":-0.69,"v":0.038},{"x":-0.675,"v":0.041},{"x":-0.66,"v":0.045},{"x":-0.645,"v":0.048},{"x":-0.63,"v":0.05},{"x":-0.615,"v":0.052},{"x":-0.6,"v":0.054},{"x":-0.585,"v":0.055},{"x":-0.57,"v":0.056},{"x":-0.555,"v":0.057},{"x":-0.54,"v":0.058},{"x":-0.525,"v":0.059},{"x":-0.51,"v":0.059},{"x":-0.495,"v":0.06},{"x":-0.48,"v":0.06},{"x":-0.465,"v":0.06},{"x":-0.45,"v":0.06},{"x":-0.435,"v":0.059},{"x":-0.42,"v":0.058},{"x":-0.405,"v":0.057},{"x":-0.39,"v":0.055},{"x":-0.375,"v":0.053},{"x":-0.36,"v":0.05},{"x":-0.35,"v":0.048},{"x":-0.34,"v":0.045},{"x":-0.33,"v":0.043},{"x":-0.322,"v":0.04},
{"x":-0.682,"v":0.036},{"x":-0.667,"v":0.04},{"x":-0.652,"v":0.043},{"x":-0.637,"v":0.046},{"x":-0.622,"v":0.049},{"x":-0.607,"v":0.051},{"x":-0.592,"v":0.053},{"x":-0.577,"v":0.054},{"x":-0.562,"v":0.055},{"x":-0.547,"v":0.056},{"x":-0.532,"v":0.057},{"x":-0.517,"v":0.058},{"x":-0.502,"v":0.058},{"x":-0.487,"v":0.059},{"x":-0.472,"v":0.059},{"x":-0.457,"v":0.059},{"x":-0.442,"v":0.058},{"x":-0.427,"v":0.057},{"x":-0.412,"v":0.056},{"x":-0.397,"v":0.054},{"x":-0.382,"v":0.052},{"x":-0.367,"v":0.049},{"x":-0.355,"v":0.046},
{"x":-0.325,"v":0.038},{"x":-0.328,"v":0.04},{"x":-0.332,"v":0.038},{"x":-0.335,"v":0.042},{"x":-0.34,"v":0.04},{"x":-0.345,"v":0.043},{"x":-0.35,"v":0.045},{"x":-0.355,"v":0.047},{"x":-0.36,"v":0.045},{"x":-0.365,"v":0.05},{"x":-0.345,"v":0.047},{"x":-0.338,"v":0.044},{"x":-0.33,"v":0.046},{"x":-0.322,"v":0.042},{"x":-0.32,"v":0.04},
{"x":-0.327,"v":0.036},{"x":-0.333,"v":0.035},{"x":-0.338,"v":0.037},{"x":-0.343,"v":0.039},{"x":-0.348,"v":0.041},{"x":-0.352,"v":0.043},{"x":-0.358,"v":0.042},{"x":-0.326,"v":0.043},{"x":-0.318,"v":0.041},{"x":-0.32,"v":0.037}
],
"tk": [{"z": 0}]
},
"columns": 2,
"bounds": "flush",
"spacing": {"row": 80, "column": 92},
"concat": [
 {
  "width": 283, "height": 166,
  "layer": [
   {"data": {"name": "p1"},
    "mark": {"type": "line", "interpolate": "step-after", "color": "#111", "strokeWidth": 1},
    "encoding": {
     "x": {"field": "t", "type": "quantitative", "scale": {"domain": [1000, 2000], "nice": false, "zero": false}, "axis": {"orient": "bottom", "values": [1000, 1500, 2000], "title": "time(s)", "labelPadding": 12, "titlePadding": 5}},
     "y": {"field": "a", "type": "quantitative", "scale": {"domain": [-1, 1.5], "nice": false, "zero": false}, "axis": {"orient": "left", "values": [-1, -0.5, 0, 0.5, 1, 1.5], "title": "bucket swing angle (rad)", "titlePadding": 10}}
    }},
   {"data": {"name": "tk"},
    "mark": {"type": "point", "opacity": 0},
    "encoding": {
     "x": {"datum": 1500, "type": "quantitative", "axis": {"orient": "top", "values": [1000, 1500, 2000], "labels": false, "title": null}},
     "y": {"datum": 0, "type": "quantitative", "axis": {"orient": "right", "values": [-1, -0.5, 0, 0.5, 1, 1.5], "labels": false, "title": null}}
    }}
  ],
  "resolve": {"axis": {"x": "independent", "y": "independent"}}
 },
 {
  "width": 283, "height": 166,
  "layer": [
   {"data": {"name": "p2"},
    "mark": {"type": "line", "color": "#111", "strokeWidth": 1},
    "encoding": {
     "x": {"field": "t", "type": "quantitative", "scale": {"domain": [1000, 2000], "nice": false, "zero": false}, "axis": {"orient": "bottom", "values": [1000, 1200, 1400, 1600, 1800, 2000], "title": "time(s)", "labelPadding": 12, "titlePadding": 5}},
     "y": {"field": "w", "type": "quantitative", "scale": {"domain": [-1, 1], "nice": false, "zero": false}, "axis": {"orient": "left", "values": [-1, -0.5, 0, 0.5, 1], "title": "slew velocity  (rad/s)", "titlePadding": 14}}
    }},
   {"data": {"name": "tk"},
    "mark": {"type": "point", "opacity": 0},
    "encoding": {
     "x": {"datum": 1500, "type": "quantitative", "axis": {"orient": "top", "values": [1000, 1200, 1400, 1600, 1800, 2000], "labels": false, "title": null}},
     "y": {"datum": 0, "type": "quantitative", "axis": {"orient": "right", "values": [-1, -0.5, 0, 0.5, 1], "labels": false, "title": null}}
    }}
  ],
  "resolve": {"axis": {"x": "independent", "y": "independent"}}
 },
 {
  "width": 283, "height": 169,
  "layer": [
   {"data": {"name": "p3"},
    "mark": {"type": "line", "interpolate": "cardinal-closed", "color": "black", "strokeWidth": 1.2},
    "encoding": {
     "x": {"field": "x", "type": "quantitative", "scale": {"domain": [-1, 1.5], "nice": false, "zero": false}, "axis": {"orient": "bottom", "values": [-1, -0.5, 0, 0.5, 1, 1.5], "title": "bucket swing angle (rad)", "titlePadding": 4}},
     "y": {"field": "v", "type": "quantitative", "scale": {"domain": [-0.3, 0.3], "nice": false, "zero": false}, "axis": {"orient": "left", "values": [-0.2, -0.1, 0, 0.1, 0.2], "title": "bucket swing velocity  (rad/s)", "titlePadding": 16}},
     "detail": {"field": "l", "type": "nominal"},
     "order": {"field": "i", "type": "quantitative"}
    }},
   {"data": {"name": "tk"},
    "mark": {"type": "point", "opacity": 0},
    "encoding": {
     "x": {"datum": 0, "type": "quantitative", "axis": {"orient": "top", "values": [-1, -0.5, 0, 0.5, 1, 1.5], "labels": false, "title": null}},
     "y": {"datum": 0, "type": "quantitative", "axis": {"orient": "right", "values": [-0.2, -0.1, 0, 0.1, 0.2], "labels": false, "title": null}}
    }}
  ],
  "resolve": {"axis": {"x": "independent", "y": "independent"}}
 },
 {
  "width": 283, "height": 169,
  "title": {"text": "Poincare Map", "offset": -21},
  "layer": [
   {"data": {"name": "p4"},
    "mark": {"type": "circle", "size": 10, "color": "black", "opacity": 1},
    "encoding": {
     "x": {"field": "x", "type": "quantitative", "scale": {"domain": [-1, -0.3], "nice": false, "zero": false}, "axis": {"orient": "bottom", "values": [-1, -0.8, -0.6, -0.4], "title": "bucket swing angle (rad)", "titlePadding": 4}},
     "y": {"field": "v", "type": "quantitative", "scale": {"domain": [-0.15, 0.1], "nice": false, "zero": false}, "axis": {"orient": "left", "values": [-0.1, -0.05, 0, 0.05, 0.1], "title": "bucket swing velocity  (rad/s)", "titlePadding": 10}}
    }},
   {"data": {"name": "tk"},
    "mark": {"type": "point", "opacity": 0},
    "encoding": {
     "x": {"datum": -0.6, "type": "quantitative", "axis": {"orient": "top", "values": [-1, -0.8, -0.6, -0.4], "labels": false, "title": null}},
     "y": {"datum": 0, "type": "quantitative", "axis": {"orient": "right", "values": [-0.1, -0.05, 0, 0.05, 0.1], "labels": false, "title": null}}
    }}
  ],
  "resolve": {"axis": {"x": "independent", "y": "independent"}}
 }
]
}
